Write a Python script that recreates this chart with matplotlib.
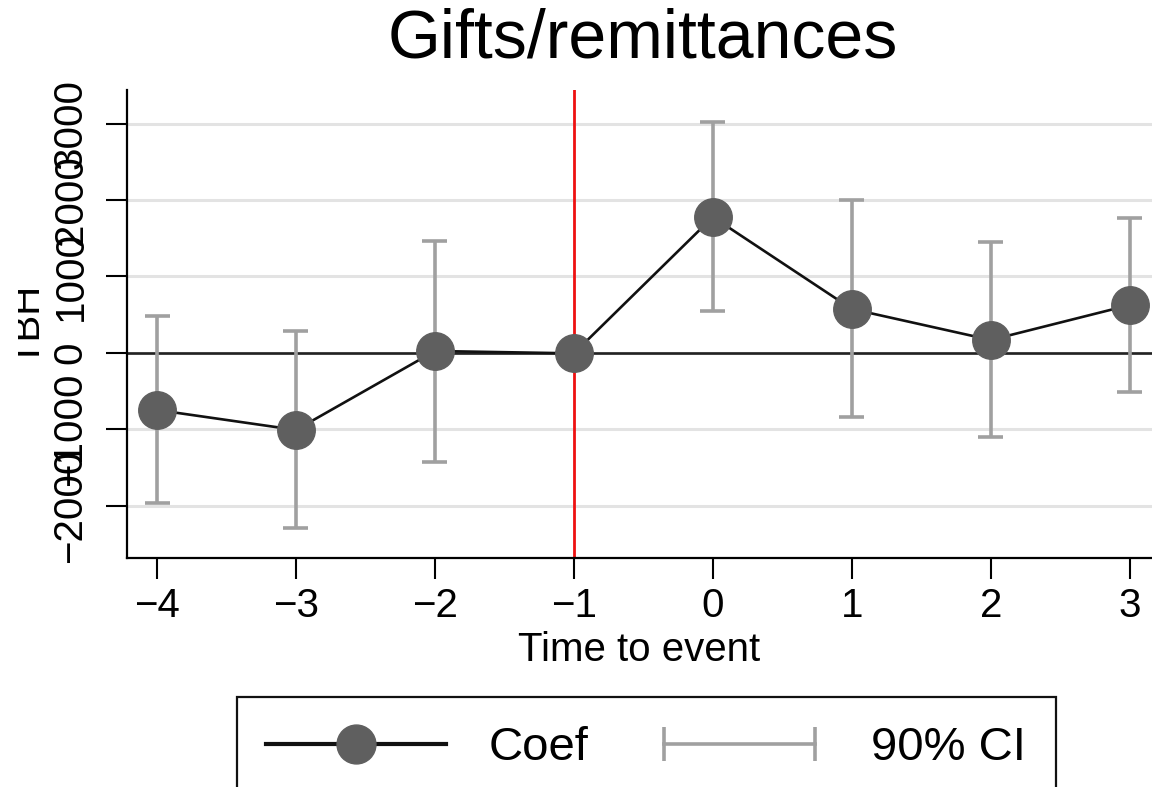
import matplotlib
matplotlib.use("Agg")
import matplotlib.pyplot as plt
from matplotlib.lines import Line2D
from matplotlib.legend_handler import HandlerLine2D
from matplotlib.transforms import Bbox, TransformedBbox

plt.rcParams['font.family'] = ['Liberation Sans', 'DejaVu Sans']

# event-study estimates
periods = [-4, -3, -2, -1, 0, 1, 2, 3]
coef = [-745, -1006, 26, -5, 1778, 575, 170, 627]
ci_low = [-1961, -2288, -1425, None, 549, -837, -1098, -510]
ci_high = [484, 288, 1464, None, 3020, 2000, 1451, 1765]
yticks = [-2000, -1000, 0, 1000, 2000, 3000]

fig = plt.figure(figsize=(11.52, 7.87), dpi=100)
ax = fig.add_axes([127 / 1152, 1 - 558 / 787, 1 - 127 / 1152, (558 - 90) / 787])

for y in yticks:
    ax.axhline(y, color='#e3e3e3', lw=2.2, zorder=0)
ax.axhline(0, color='#222222', lw=1.9, zorder=1)
ax.axvline(-1, color='#ee1111', lw=2.0, zorder=2)

# CI bars (reference period has none)
ci_x = [p for p, lo in zip(periods, ci_low) if lo is not None]
lo = [v for v in ci_low if v is not None]
hi = [v for v in ci_high if v is not None]
cap = 0.09
ax.vlines(ci_x, lo, hi, color='#a0a0a0', lw=2.6, zorder=3)
ax.hlines(lo, [x - cap for x in ci_x], [x + cap for x in ci_x], color='#a0a0a0', lw=2.6, zorder=3)
ax.hlines(hi, [x - cap for x in ci_x], [x + cap for x in ci_x], color='#a0a0a0', lw=2.6, zorder=3)

ax.plot(periods, coef, color='#111111', lw=1.9, marker='o', markersize=27,
        markerfacecolor='#5f5f5f', markeredgecolor='#5f5f5f', zorder=4)

ax.set_xlim(-4.216, 3.16)
ax.set_ylim(-2680, 3438)
ax.set_xticks(periods)
ax.set_xticklabels([str(p).replace('-', '\u2212') for p in periods])
ax.set_yticks(yticks)
ax.set_yticklabels([str(t).replace('-', '\u2212') for t in yticks], rotation=90, va='center')
ax.tick_params(axis='both', labelsize=29, length=15, width=1.5, direction='out')
ax.tick_params(axis='x', pad=6)
ax.tick_params(axis='y', pad=12)
for s in ['top', 'right']:
    ax.spines[s].set_visible(False)
for s in ['left', 'bottom']:
    ax.spines[s].set_linewidth(1.6)

ax.set_xlabel('Time to event', fontsize=29, labelpad=4)
fig.text(643 / 1152, 1 - 40 / 787, 'Gifts/remittances', fontsize=49, ha='center', va='center')

# y title is cut at the left edge in the source image
ylab = fig.text(47 / 1152, 1 - 325 / 787, 'TBH', fontsize=29, rotation=90, ha='right', va='center')
ylab.set_clip_box(TransformedBbox(Bbox([[18 / 1152, 0], [1, 1]]), fig.transFigure))
ylab.set_clip_on(True)

h_coef = Line2D([], [], color='#111111', lw=3.0, marker='o', markersize=28,
                markerfacecolor='#5f5f5f', markeredgecolor='#5f5f5f')
h_ci = Line2D([], [], color='#a0a0a0', lw=2.6, marker='|', markersize=24, markeredgewidth=2.6)
fig.legend([h_coef, h_ci], ['Coef', '90% CI'], ncol=2, loc='upper left',
           bbox_to_anchor=(237 / 1152, 1 - 697 / 787), fontsize=34, frameon=True,
           fancybox=False, edgecolor='#111111', framealpha=1,
           handlelength=3.8, handletextpad=0.9, columnspacing=1.3,
           borderpad=0.62, borderaxespad=0,
           handler_map={h_coef: HandlerLine2D(numpoints=1), h_ci: HandlerLine2D(numpoints=2)})
fig.legends[0].get_frame().set_linewidth(1.6)

fig.savefig('out.png', dpi=100)
